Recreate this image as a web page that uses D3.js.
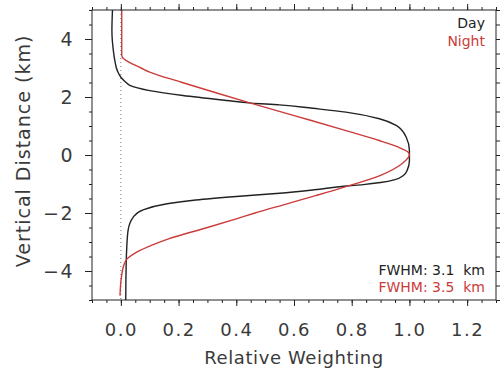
<!DOCTYPE html>
<html>
<head>
<meta charset="utf-8">
<script src="https://cdn.jsdelivr.net/npm/d3@7"></script>
<style>
body { margin: 0; background: #fff; }
svg text { font-family: "DejaVu Sans", sans-serif; fill: #3a3a3a; }
</style>
</head>
<body>
<div class="chart"></div>
<script>
// Day profile: km, weight
var dayKm = [5, 4.3, 3.6, 3.26, 2.9, 2.68, 2.5, 2.4, 2.22, 2.05, 1.88, 1.79, 1.73, 1.61, 1.48, 1.25, 1.02, 0.61, 0.15,
	-0.19, -0.53, -0.7, -0.85, -0.95, -1.02, -1.07, -1.2, -1.32, -1.43, -1.55, -1.68, -1.89, -2.14, -2.6, -3.29, -4, -5];
var dayVal = [-0.029, -0.031, -0.026, -0.021, -0.012, 0.0, 0.018, 0.031, 0.10, 0.215, 0.366, 0.452, 0.55, 0.665, 0.78, 0.896, 0.954, 0.989, 1.0,
	1.0, 0.992, 0.98, 0.95, 0.9, 0.84, 0.78, 0.67, 0.55, 0.40, 0.26, 0.16, 0.077, 0.043, 0.025, 0.02, 0.018, 0.017];

// Night profile
var nightKm = [5, 4, 3.43, 3.3, 3.2, 3.0, 2.86, 2.51, 2.13, 1.79, 1.53, 1.19, 0.84, 0.5, 0.27, 0.1, 0,
	-0.1, -0.3, -0.7, -1.09, -1.4, -1.7, -2.0, -2.2, -2.5, -2.89, -3.1, -3.35, -3.6, -3.81, -4.21, -4.85];
var nightVal = [0.003, 0.003, 0.003, 0.012, 0.028, 0.07, 0.10, 0.21, 0.335, 0.45, 0.54, 0.66, 0.78, 0.895, 0.962, 0.995, 1.0,
	0.995, 0.974, 0.9, 0.78, 0.675, 0.57, 0.465, 0.40, 0.30, 0.165, 0.11, 0.055, 0.02, 0.01, 0.002, -0.003];

var xTicks = [0, 0.2, 0.4, 0.6, 0.8, 1.0, 1.2];
var yTicks = [-4, -2, 0, 2, 4];
var legendNames = ["Day", "Night"];
var fwhmLabels = ["FWHM: 3.1  km", "FWHM: 3.5  km"];
var colors = ["#222222", "#cc3b3b"];

var W = 501, H = 370;
var x = d3.scaleLinear().domain([-0.1, 1.3]).range([92, 496]);
var y = d3.scaleLinear().domain([-5, 5]).range([300, 10]);

var svg = d3.select(".chart").append("svg")
	.attr("width", W)
	.attr("height", H);

// zero line
svg.append("line")
	.attr("x1", x(0)).attr("x2", x(0))
	.attr("y1", y(5)).attr("y2", y(-5))
	.attr("stroke", "#777").attr("stroke-width", 1)
	.attr("stroke-dasharray", "1,3");

var line = d3.line().curve(d3.curveMonotoneY);
var series = [
	d3.zip(dayVal, dayKm),
	d3.zip(nightVal, nightKm)
];
series.forEach(function(s, i) {
	svg.append("path")
		.attr("d", line(s.map(function(p) { return [x(p[0]), y(p[1])]; })))
		.attr("fill", "none")
		.attr("stroke", colors[i])
		.attr("stroke-width", 1.4);
});

// frame
svg.append("rect")
	.attr("x", x(-0.1)).attr("y", y(5))
	.attr("width", x(1.3) - x(-0.1)).attr("height", y(-5) - y(5))
	.attr("fill", "none").attr("stroke", "#222").attr("stroke-width", 1);

var xMinor = d3.range(-0.1, 1.3001, 0.05).map(function(v) { return +v.toFixed(2); });
var yMinor = d3.range(-5, 5.001, 0.5);

function axisStyle(g) {
	g.select(".domain").remove();
	g.selectAll("line").attr("stroke", "#222");
}

// bottom & top
svg.append("g").attr("transform", "translate(0," + y(-5) + ")")
	.call(d3.axisBottom(x).tickValues(xMinor).tickSize(3).tickFormat(""))
	.call(axisStyle);
svg.append("g").attr("transform", "translate(0," + y(-5) + ")")
	.call(d3.axisBottom(x).tickValues(xTicks).tickSize(6).tickPadding(17).tickFormat(d3.format(".1f")))
	.call(axisStyle)
	.selectAll("text").attr("font-size", 18).attr("fill", "#3a3a3a").style("letter-spacing", "1.5px");
svg.append("g").attr("transform", "translate(0," + y(5) + ")")
	.call(d3.axisTop(x).tickValues(xMinor).tickSize(3).tickFormat(""))
	.call(axisStyle);
svg.append("g").attr("transform", "translate(0," + y(5) + ")")
	.call(d3.axisTop(x).tickValues(xTicks).tickSize(6).tickFormat(""))
	.call(axisStyle);

// left & right
svg.append("g").attr("transform", "translate(" + x(-0.1) + ",0)")
	.call(d3.axisLeft(y).tickValues(yMinor).tickSize(3).tickFormat(""))
	.call(axisStyle);
svg.append("g").attr("transform", "translate(" + x(-0.1) + ",0)")
	.call(d3.axisLeft(y).tickValues(yTicks).tickSize(7).tickPadding(11).tickFormat(function(d) { return d < 0 ? "\u2212" + Math.abs(d) : d; }))
	.call(axisStyle)
	.selectAll("text").attr("font-size", 19).attr("fill", "#3a3a3a").style("letter-spacing", "1.5px");
svg.append("g").attr("transform", "translate(" + x(1.3) + ",0)")
	.call(d3.axisRight(y).tickValues(yMinor).tickSize(4).tickFormat(""))
	.call(axisStyle);

// titles
svg.append("text")
	.attr("x", (x(-0.1) + x(1.3)) / 2).attr("y", 364)
	.attr("text-anchor", "middle").attr("font-size", 18)
	.style("letter-spacing", "0.6px")
	.text("Relative Weighting");
svg.append("text")
	.attr("transform", "translate(30,151) rotate(-90)")
	.attr("text-anchor", "middle").attr("font-size", 19)
	.style("letter-spacing", "1px")
	.text("Vertical Distance (km)");

// legend
legendNames.forEach(function(n, i) {
	svg.append("text")
		.attr("x", 485).attr("y", 28 + i * 18)
		.attr("text-anchor", "end").attr("font-size", 14)
		.style("fill", colors[i])
		.text(n);
});
fwhmLabels.forEach(function(n, i) {
	svg.append("text")
		.attr("x", 485).attr("y", 275 + i * 17)
		.attr("text-anchor", "end").attr("font-size", 14)
		.style("fill", colors[i])
		.style("white-space", "pre")
		.text(n);
});
</script>
</body>
</html>
